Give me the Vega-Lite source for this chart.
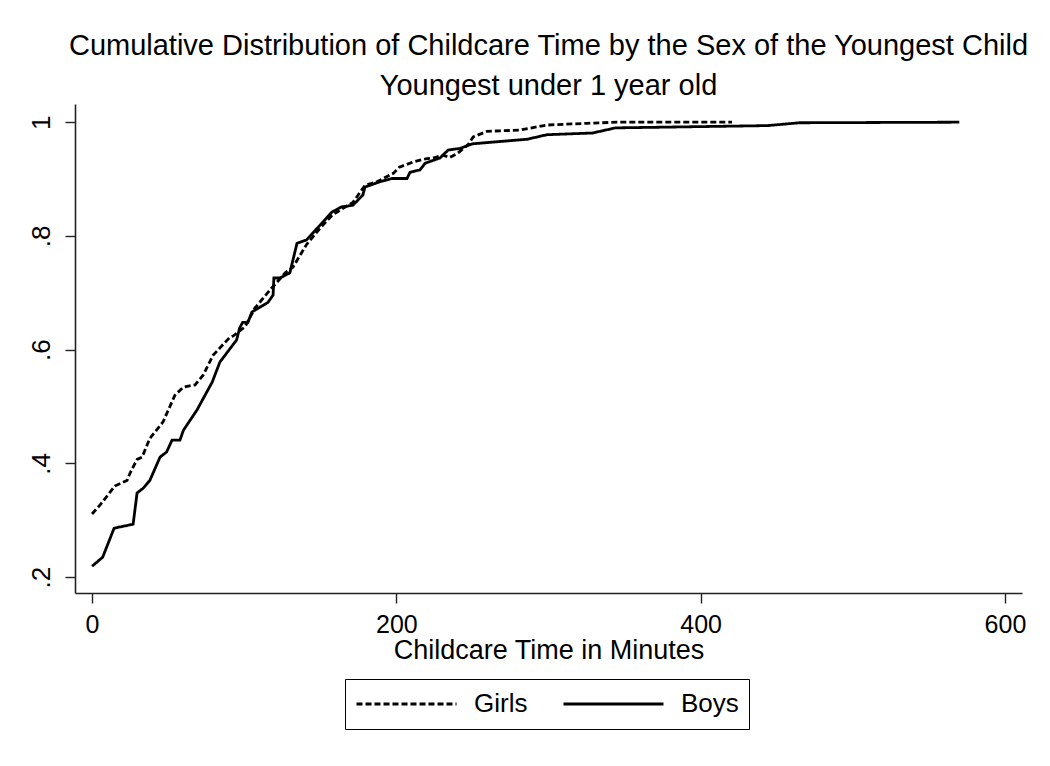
{
  "$schema": "https://vega.github.io/schema/vega-lite/v6.json",
  "width": 947,
  "height": 489,
  "autosize": {"type": "none"},
  "padding": {"left": 75, "top": 104, "right": 28, "bottom": 173},
  "background": "white",
  "config": {
    "font": "Liberation Sans",
    "view": {"stroke": null},
    "axis": {"domainColor": "#222", "tickColor": "#222", "domainWidth": 1.6, "tickWidth": 1.4, "labelColor": "black", "titleColor": "black", "grid": false}
  },
  "title": {
    "text": ["Cumulative Distribution of Childcare Time by the Sex of the Youngest Child", "Youngest under 1 year old"],
    "fontSize": 29,
    "fontWeight": "normal",
    "lineHeight": 40,
    "anchor": "middle",
    "frame": "group",
    "offset": 3,
    "color": "black"
  },
  "data": {
    "values": [
      {"sex": "Girls", "minutes": 0, "cdf": 0.311},
      {"sex": "Girls", "minutes": 5.3, "cdf": 0.327},
      {"sex": "Girls", "minutes": 15, "cdf": 0.36},
      {"sex": "Girls", "minutes": 23, "cdf": 0.37},
      {"sex": "Girls", "minutes": 25, "cdf": 0.383},
      {"sex": "Girls", "minutes": 29.6, "cdf": 0.407},
      {"sex": "Girls", "minutes": 32.9, "cdf": 0.411},
      {"sex": "Girls", "minutes": 38, "cdf": 0.444},
      {"sex": "Girls", "minutes": 46.7, "cdf": 0.473},
      {"sex": "Girls", "minutes": 51, "cdf": 0.499},
      {"sex": "Girls", "minutes": 54.5, "cdf": 0.52},
      {"sex": "Girls", "minutes": 60, "cdf": 0.534},
      {"sex": "Girls", "minutes": 67.7, "cdf": 0.538},
      {"sex": "Girls", "minutes": 73, "cdf": 0.555},
      {"sex": "Girls", "minutes": 79.5, "cdf": 0.59},
      {"sex": "Girls", "minutes": 84, "cdf": 0.603},
      {"sex": "Girls", "minutes": 90.7, "cdf": 0.622},
      {"sex": "Girls", "minutes": 92.7, "cdf": 0.624},
      {"sex": "Girls", "minutes": 100.5, "cdf": 0.64},
      {"sex": "Girls", "minutes": 107, "cdf": 0.673},
      {"sex": "Girls", "minutes": 117, "cdf": 0.705},
      {"sex": "Girls", "minutes": 127, "cdf": 0.735},
      {"sex": "Girls", "minutes": 132, "cdf": 0.745},
      {"sex": "Girls", "minutes": 141, "cdf": 0.785},
      {"sex": "Girls", "minutes": 150, "cdf": 0.814},
      {"sex": "Girls", "minutes": 158, "cdf": 0.837},
      {"sex": "Girls", "minutes": 171.5, "cdf": 0.859},
      {"sex": "Girls", "minutes": 179.4, "cdf": 0.889},
      {"sex": "Girls", "minutes": 187, "cdf": 0.895},
      {"sex": "Girls", "minutes": 198, "cdf": 0.91},
      {"sex": "Girls", "minutes": 202, "cdf": 0.921},
      {"sex": "Girls", "minutes": 211, "cdf": 0.93},
      {"sex": "Girls", "minutes": 220, "cdf": 0.936},
      {"sex": "Girls", "minutes": 224, "cdf": 0.937},
      {"sex": "Girls", "minutes": 230.6, "cdf": 0.942},
      {"sex": "Girls", "minutes": 235, "cdf": 0.938},
      {"sex": "Girls", "minutes": 240, "cdf": 0.945},
      {"sex": "Girls", "minutes": 247, "cdf": 0.96},
      {"sex": "Girls", "minutes": 250.5, "cdf": 0.974},
      {"sex": "Girls", "minutes": 259.6, "cdf": 0.984},
      {"sex": "Girls", "minutes": 281, "cdf": 0.986},
      {"sex": "Girls", "minutes": 299, "cdf": 0.995},
      {"sex": "Girls", "minutes": 325, "cdf": 0.998},
      {"sex": "Girls", "minutes": 345, "cdf": 1.0},
      {"sex": "Girls", "minutes": 420.6, "cdf": 1.0},
      {"sex": "Boys", "minutes": 0, "cdf": 0.219},
      {"sex": "Boys", "minutes": 7, "cdf": 0.235},
      {"sex": "Boys", "minutes": 14.5, "cdf": 0.286},
      {"sex": "Boys", "minutes": 27, "cdf": 0.293},
      {"sex": "Boys", "minutes": 29.6, "cdf": 0.348},
      {"sex": "Boys", "minutes": 33.5, "cdf": 0.356},
      {"sex": "Boys", "minutes": 38, "cdf": 0.37},
      {"sex": "Boys", "minutes": 44.7, "cdf": 0.411},
      {"sex": "Boys", "minutes": 49, "cdf": 0.42},
      {"sex": "Boys", "minutes": 52.6, "cdf": 0.441},
      {"sex": "Boys", "minutes": 57.8, "cdf": 0.441},
      {"sex": "Boys", "minutes": 60, "cdf": 0.458},
      {"sex": "Boys", "minutes": 69, "cdf": 0.494},
      {"sex": "Boys", "minutes": 79, "cdf": 0.543},
      {"sex": "Boys", "minutes": 84, "cdf": 0.578},
      {"sex": "Boys", "minutes": 95, "cdf": 0.617},
      {"sex": "Boys", "minutes": 97, "cdf": 0.638},
      {"sex": "Boys", "minutes": 99, "cdf": 0.648},
      {"sex": "Boys", "minutes": 102.5, "cdf": 0.648},
      {"sex": "Boys", "minutes": 105, "cdf": 0.666},
      {"sex": "Boys", "minutes": 115.6, "cdf": 0.683},
      {"sex": "Boys", "minutes": 119, "cdf": 0.696},
      {"sex": "Boys", "minutes": 119.5, "cdf": 0.726},
      {"sex": "Boys", "minutes": 123.5, "cdf": 0.726},
      {"sex": "Boys", "minutes": 130, "cdf": 0.735},
      {"sex": "Boys", "minutes": 134.7, "cdf": 0.787},
      {"sex": "Boys", "minutes": 141, "cdf": 0.793},
      {"sex": "Boys", "minutes": 157.7, "cdf": 0.842},
      {"sex": "Boys", "minutes": 164, "cdf": 0.851},
      {"sex": "Boys", "minutes": 171.5, "cdf": 0.854},
      {"sex": "Boys", "minutes": 178, "cdf": 0.872},
      {"sex": "Boys", "minutes": 179.4, "cdf": 0.886},
      {"sex": "Boys", "minutes": 189, "cdf": 0.895},
      {"sex": "Boys", "minutes": 197, "cdf": 0.901},
      {"sex": "Boys", "minutes": 207, "cdf": 0.901},
      {"sex": "Boys", "minutes": 209, "cdf": 0.912},
      {"sex": "Boys", "minutes": 215.5, "cdf": 0.916},
      {"sex": "Boys", "minutes": 219, "cdf": 0.928},
      {"sex": "Boys", "minutes": 228.7, "cdf": 0.937},
      {"sex": "Boys", "minutes": 234, "cdf": 0.951},
      {"sex": "Boys", "minutes": 242, "cdf": 0.954},
      {"sex": "Boys", "minutes": 250, "cdf": 0.962},
      {"sex": "Boys", "minutes": 286, "cdf": 0.97},
      {"sex": "Boys", "minutes": 299, "cdf": 0.978},
      {"sex": "Boys", "minutes": 329, "cdf": 0.981},
      {"sex": "Boys", "minutes": 344, "cdf": 0.99},
      {"sex": "Boys", "minutes": 444, "cdf": 0.994},
      {"sex": "Boys", "minutes": 465, "cdf": 0.999},
      {"sex": "Boys", "minutes": 570, "cdf": 1.0}
    ]
  },
  "mark": {"type": "line", "color": "black", "strokeWidth": 2.8, "interpolate": "linear"},
  "encoding": {
    "x": {
      "field": "minutes",
      "type": "quantitative",
      "scale": {"domain": [-11.2, 611.2], "nice": false, "zero": false},
      "axis": {
        "values": [0, 200, 400, 600],
        "tickSize": 10,
        "labelFontSize": 25,
        "labelPadding": 9,
        "title": "Childcare Time in Minutes",
        "titleFontSize": 27,
        "titleFontWeight": "normal",
        "titlePadding": 0
      }
    },
    "y": {
      "field": "cdf",
      "type": "quantitative",
      "scale": {"domain": [0.172, 1.032], "nice": false, "zero": false},
      "axis": {
        "values": [0.2, 0.4, 0.6, 0.8, 1],
        "labelExpr": "datum.value >= 1 ? '1' : substring(format(datum.value, '.1f'), 1)",
        "tickSize": 10,
        "labelFontSize": 26,
        "labelAngle": -90,
        "labelAlign": "center",
        "labelBaseline": "bottom",
        "labelPadding": 11,
        "title": null
      }
    },
    "strokeDash": {
      "field": "sex",
      "type": "nominal",
      "scale": {"domain": ["Girls", "Boys"], "range": [[6, 3], [1, 0]]},
      "legend": {
        "title": null,
        "orient": "none",
        "legendX": 270,
        "legendY": 575,
        "direction": "horizontal",
        "symbolType": "stroke",
        "symbolSize": 10000,
        "symbolStrokeWidth": 3,
        "symbolStrokeColor": "black",
        "clipHeight": 30,
        "labelFontSize": 26,
        "labelColor": "black",
        "labelOffset": 16,
        "columnPadding": 34,
        "padding": 10,
        "strokeColor": "black",
        "fillColor": "white"
      }
    }
  }
}
